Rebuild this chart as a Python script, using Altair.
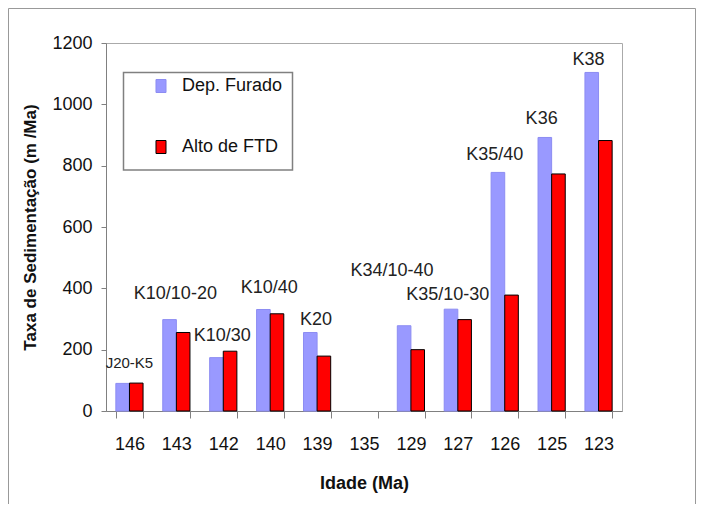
import altair as alt
import pandas as pd

# ---- data ----
ages = ["146", "143", "142", "140", "139", "135", "129", "127", "126", "125", "123"]
dep_furado = [90, 298, 174, 331, 256, None, 278, 332, 778, 892, 1104]
alto_ftd = [91, 256, 195, 317, 179, None, 200, 298, 378, 773, 882]
series_names = ["Dep. Furado", "Alto de FTD"]
series_colors = ["#9999FF", "#FF0000"]
series_strokes = ["#8c8cf2", "#000000"]

label_ages = ["146", "143", "142", "140", "139", "135", "127", "126", "125", "123"]
label_texts = ["J20-K5", "K10/10-20", "K10/30", "K10/40", "K20",
               "K34/10-40", "K35/10-30", "K35/40", "K36", "K38"]
label_values = [156, 381, 243, 400, 297, 455, 377, 836, 951, 1145]

y_ticks = [0, 200, 400, 600, 800, 1000, 1200]

# ---- tables ----
rows = []
for name, vals in zip(series_names, [dep_furado, alto_ftd]):
    for a, v in zip(ages, vals):
        if v is not None:
            rows.append({"age": a, "series": name, "value": v})
bars_df = pd.DataFrame(rows)
labels_df = pd.DataFrame({"age": label_ages, "text": label_texts, "value": label_values})
one = pd.DataFrame({"k": [0]})

W, H = 516, 368
SANS = "Liberation Sans, Arial"

x_enc = alt.X(
    "age:N", sort=ages,
    scale=alt.Scale(domain=ages, paddingInner=0.42, paddingOuter=0.21),
    axis=alt.Axis(title="Idade (Ma)", tickBand="extent", labelAngle=0,
                  tickSize=7, labelPadding=17, labelFont=SANS, labelFontSize=18,
                  labelColor="#111", domainColor="#808080", tickColor="#808080",
                  titleFont=SANS, titleFontSize=18, titleFontWeight="bold",
                  titleColor="#111", titleY=72, titleBaseline="middle", grid=False),
)
y_enc = alt.Y(
    "value:Q",
    scale=alt.Scale(domain=[0, 1200], nice=False),
    axis=alt.Axis(title="Taxa de Sedimentação (m /Ma)", values=y_ticks, format="d",
                  grid=False, tickSize=5, labelPadding=9, labelFont=SANS, labelFontSize=18,
                  labelColor="#111", domainColor="#808080", tickColor="#808080",
                  titleFont=SANS, titleFontSize=17, titleFontWeight="bold",
                  titleColor="#111", titleX=-76, titleY=H / 2, titleBaseline="middle",
                  titleAngle=270),
)

legend = alt.Legend(
    title=None, orient="none", legendX=46, legendY=34,
    symbolType="M-0.77,-1 L0.77,-1 L0.77,1 L-0.77,1 Z", symbolSize=169,
    symbolStrokeWidth=1, labelFont=SANS, labelFontSize=18, labelColor="#111",
    labelOffset=12, rowPadding=43, padding=0,
)

bars = alt.Chart(bars_df).mark_bar(strokeWidth=1).encode(
    x=x_enc,
    xOffset=alt.XOffset("series:N", sort=series_names,
                        scale=alt.Scale(domain=series_names, paddingInner=0, paddingOuter=0)),
    y=y_enc,
    color=alt.Color("series:N", sort=series_names,
                    scale=alt.Scale(domain=series_names, range=series_colors), legend=legend),
    stroke=alt.Stroke("series:N", sort=series_names,
                      scale=alt.Scale(domain=series_names, range=series_strokes), legend=legend),
)

legend_box = alt.Chart(one).mark_rect(fill="white", stroke="#808080", strokeWidth=1.5).encode(
    x=alt.value(17.5), x2=alt.value(186.5), y=alt.value(29.5), y2=alt.value(127)
)

frame_color = "#999999"
frame_left = alt.Chart(one).mark_rule(color=frame_color, strokeWidth=1).encode(
    x=alt.value(-97.5), y=alt.value(-34.5), y2=alt.value(480))
frame_top = alt.Chart(one).mark_rule(color=frame_color, strokeWidth=1).encode(
    x=alt.value(-97.5), x2=alt.value(589.5), y=alt.value(-34.5))
frame_right = alt.Chart(one).mark_rule(color=frame_color, strokeWidth=1).encode(
    x=alt.value(589.5), y=alt.value(-34.5), y2=alt.value(480))


def label_layer(texts, dx, size):
    return alt.Chart(labels_df).transform_filter(
        alt.FieldOneOfPredicate(field="text", oneOf=texts)
    ).mark_text(font=SANS, fontSize=size, color="#222", dx=dx, baseline="middle",
                align="center").encode(
        x=alt.X("age:N", sort=ages), y=alt.Y("value:Q"), text="text:N")


lab_j = label_layer(["J20-K5"], 0, 15)
lab_left = label_layer(["K10/10-20", "K10/30", "K10/40", "K20"], -1, 18)
lab_k34 = label_layer(["K34/10-40"], 28, 18)
lab_right = label_layer(["K35/10-30", "K35/40", "K36", "K38"], -10, 18)

chart = alt.layer(
    frame_left, frame_top, frame_right, legend_box, bars,
    lab_j, lab_left, lab_k34, lab_right
).properties(
    width=W, height=H,
    padding={"left": 98, "top": 35, "right": 74, "bottom": 93},
    autosize=alt.AutoSizeParams(type="none"),
    background="white",
).configure_view(stroke="#aaaaaa", strokeWidth=1)

chart.save("out.html", embed_options={"renderer": "svg", "actions": False})
